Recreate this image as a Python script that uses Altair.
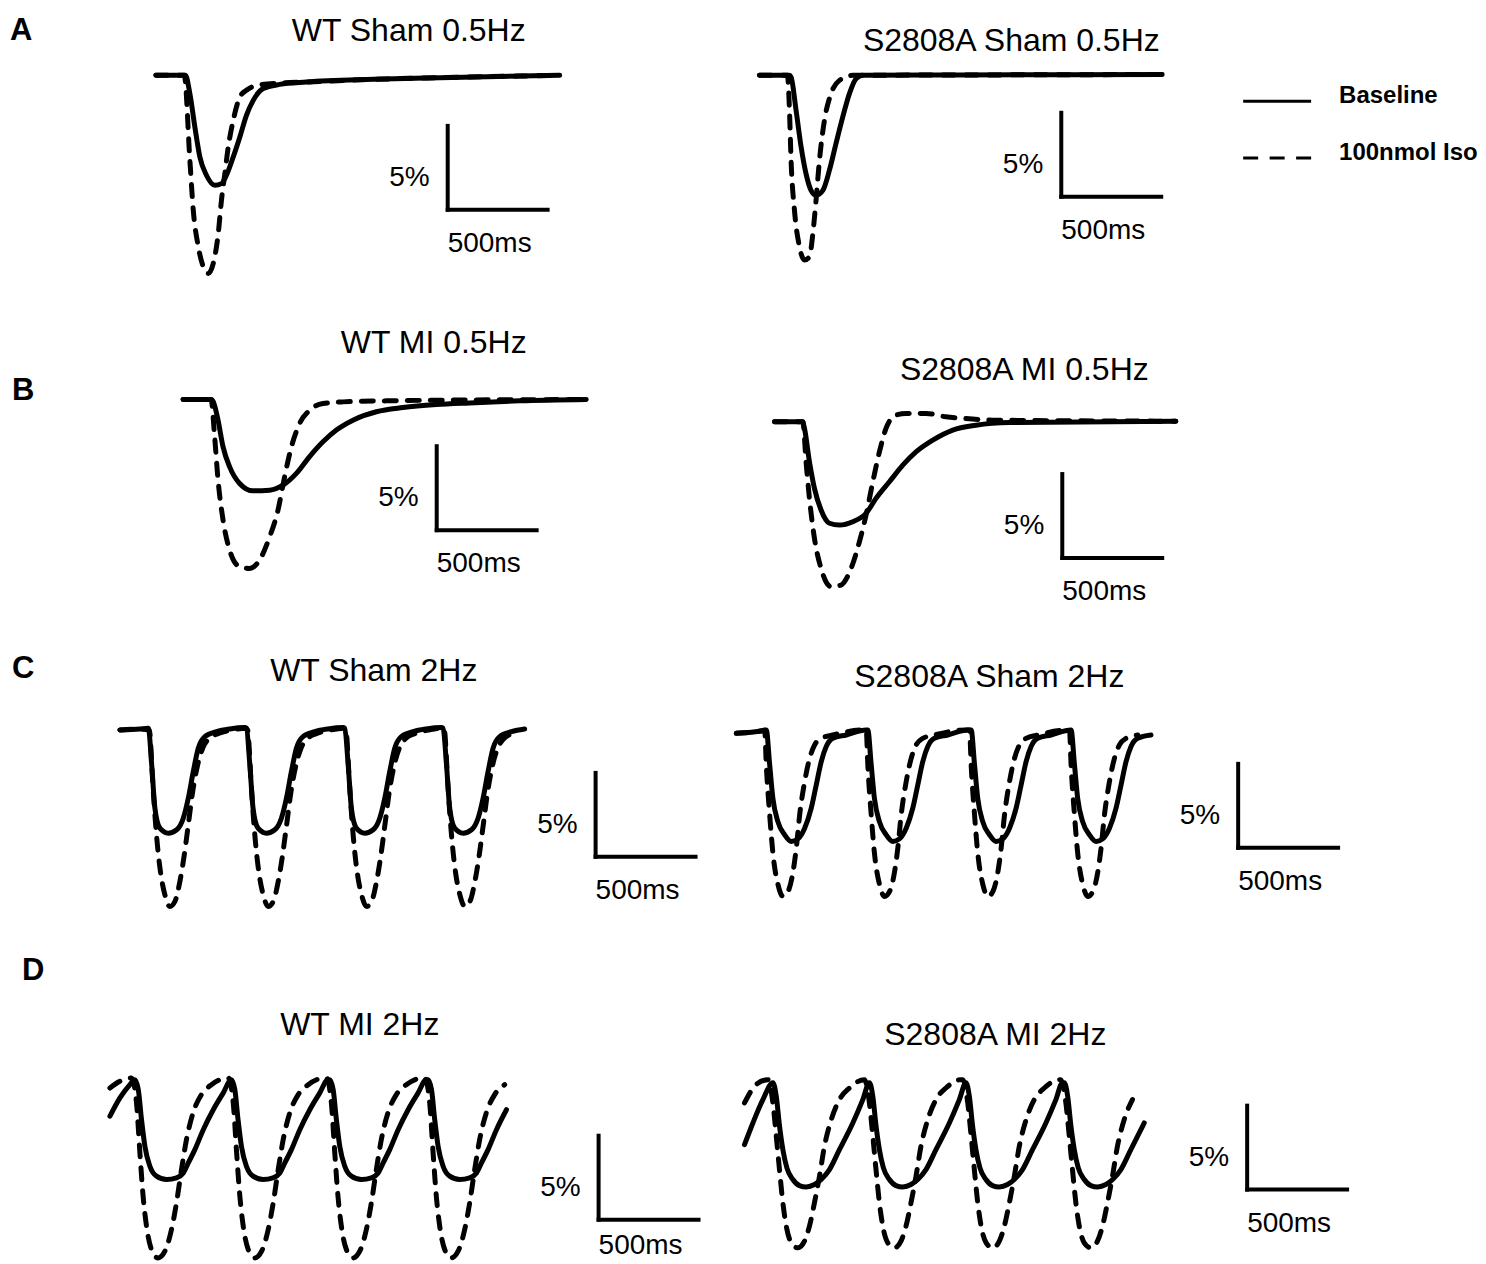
import altair as alt
import pandas as pd

# ---------------- canvas: one shared scale (ms across, % up) ----------------
MS_PER_PX = 5.0          # 100 px = 500 ms
PX_PER_PCT = 16.8        # 84 px = 5 %
W, H = 1470, 1248
X_DOMAIN = [0, W * MS_PER_PX]
Y_DOMAIN = [0, H / PX_PER_PCT]
FONT = "Liberation Sans"

# ---------------- panel origins (global ms, global %) ----------------
PANEL_ORIGIN = {
    "WT Sham 0.5Hz": (740, 70.30),
    "S2808A Sham 0.5Hz": (3760, 70.30),
    "WT MI 0.5Hz": (876, 50.99),
    "S2808A MI 0.5Hz": (3835, 49.66),
    "WT Sham 2Hz": (560, 31.31),
    "S2808A Sham 2Hz": (3644, 31.11),
    "WT MI 2Hz": (510, 10.48),
    "S2808A MI 2Hz": (3685, 10.30),
}
TITLE_POS = {
    "WT Sham 0.5Hz": (2005, 72.32),
    "S2808A Sham 0.5Hz": (5020, 71.73),
    "WT MI 0.5Hz": (2130, 53.75),
    "S2808A MI 0.5Hz": (5085, 52.14),
    "WT Sham 2Hz": (1830, 34.23),
    "S2808A Sham 2Hz": (4910, 33.87),
    "WT MI 2Hz": (1760, 13.15),
    "S2808A MI 2Hz": (4940, 12.56),
}
SCALEBAR_CORNER = {
    "WT Sham 0.5Hz": (2200, 62.29),
    "S2808A Sham 0.5Hz": (5270, 63.07),
    "WT MI 0.5Hz": (2145, 43.21),
    "S2808A MI 0.5Hz": (5275, 41.55),
    "WT Sham 2Hz": (2940, 23.75),
    "S2808A Sham 2Hz": (6155, 24.29),
    "WT MI 2Hz": (2955, 2.14),
    "S2808A MI 2Hz": (6200, 3.93),
}
BAR_MS, BAR_PCT = 500, 5
LETTERS = ["A", "B", "C", "D"]
LETTER_POS = [(10, 72.38), (20, 50.95), (20, 34.40), (70, 16.43)]
SERIES = ["Baseline", "100nmol Iso"]

# ---------------- 0.5 Hz traces (t in ms, v in %) ----------------
A_L_SOLID_T = [0, 148, 170, 195, 220, 253, 295, 328, 353, 387, 420, 453, 487, 537, 620, 753, 1087, 1420, 2020]
A_L_SOLID_V = [0, 0, -1.09, -3.08, -4.86, -5.95, -6.55, -6.45, -5.95, -4.86, -3.67, -2.38, -1.49, -0.79, -0.54, -0.40, -0.24, -0.14, 0]
A_L_DASH_T = [0, 142, 170, 187, 212, 237, 262, 287, 312, 328, 345, 362, 387, 420, 453, 503, 620, 753, 1087, 1420, 2020]
A_L_DASH_V = [0, 0, -5.06, -8.04, -10.2, -11.4, -11.8, -11.2, -9.42, -7.44, -5.85, -4.27, -2.68, -1.29, -0.89, -0.60, -0.46, -0.40, -0.24, -0.14, 0]

A_R_SOLID_T = [0, 150, 158, 183, 208, 233, 258, 283, 317, 350, 383, 417, 450, 483, 517, 1000, 2015]
A_R_SOLID_V = [0, 0, -0.1, -2.08, -4.25, -5.87, -6.85, -7.14, -6.85, -5.65, -4.05, -2.46, -1.09, -0.2, 0, 0.02, 0.05]
A_R_DASH_T = [0, 140, 150, 158, 175, 200, 225, 250, 267, 283, 300, 325, 358, 400, 467, 1000, 2015]
A_R_DASH_V = [0, 0, -2.08, -5.06, -8.04, -10.2, -11.0, -10.8, -9.42, -7.44, -5.06, -2.68, -1.09, -0.3, 0, 0.02, 0.05]

B_L_SOLID_T = [0, 142, 150, 175, 200, 233, 283, 350, 433, 500, 567, 633, 700, 767, 850, 967, 1100, 1267, 1433, 1683, 2017]
B_L_SOLID_V = [0, 0, -0.1, -1.23, -2.82, -4.01, -5.0, -5.44, -5.4, -5.1, -4.4, -3.4, -2.52, -1.82, -1.23, -0.73, -0.48, -0.3, -0.2, -0.08, 0]
B_L_DASH_T = [0, 140, 158, 175, 200, 233, 283, 333, 383, 433, 475, 508, 542, 583, 633, 700, 800, 1017, 1267, 2017]
B_L_DASH_V = [0, 0, -2.23, -4.8, -7.18, -8.97, -9.96, -10.06, -9.56, -8.18, -6.58, -4.6, -2.82, -1.43, -0.64, -0.24, -0.14, -0.08, -0.04, 0]

B_R_SOLID_T = [0, 140, 150, 175, 200, 233, 275, 325, 392, 458, 508, 575, 642, 708, 792, 892, 1008, 1175, 2008]
B_R_SOLID_V = [0, 0, -0.39, -2.38, -3.96, -5.25, -6.04, -6.15, -5.95, -5.45, -4.56, -3.57, -2.58, -1.79, -1.09, -0.49, -0.2, -0.04, 0.04]
B_R_DASH_T = [0, 142, 158, 175, 200, 233, 283, 333, 383, 425, 458, 492, 525, 558, 608, 658, 758, 858, 958, 1092, 2008]
B_R_DASH_V = [0, 0, -2.38, -4.56, -6.94, -8.73, -9.82, -9.72, -8.73, -7.14, -5.56, -3.57, -1.79, -0.39, 0.4, 0.5, 0.5, 0.3, 0.2, 0.1, 0.04]

# ---------------- 2 Hz traces: lead-in, one read beat, beat onsets ----------------
C_L_HEAD_T = [0, 100]
C_L_HEAD_V = [0, 0.05]
C_L_SOLID_BEAT_T = [0, 17, 33, 58, 100, 142, 175, 200, 225, 250, 283, 342, 408, 483]
C_L_SOLID_BEAT_V = [0.1, -2.08, -4.66, -5.85, -6.15, -5.95, -5.26, -4.07, -2.48, -1.09, -0.40, -0.10, 0.06, 0.14]
C_L_SOLID_ONSETS = [142, 633, 1125, 1617]
C_L_DASH_BEAT_T = [0, 17, 28, 42, 58, 78, 103, 128, 153, 175, 195, 217, 242, 267, 300, 350, 417, 483]
C_L_DASH_BEAT_V = [0, -3.08, -5.06, -7.04, -8.63, -9.82, -10.52, -10.22, -9.03, -7.44, -5.65, -3.67, -2.08, -1.09, -0.5, -0.2, 0, 0.1]
C_L_DASH_ONSETS = [147, 639, 1131, 1623]
C_L_END = 2025

C_R_HEAD_T = [0, 130]
C_R_HEAD_V = [0, 0.15]
C_R_SOLID_BEAT_T = [0, 17, 33, 58, 92, 125, 158, 192, 225, 250, 275, 300, 333, 400, 500]
C_R_SOLID_BEAT_V = [0.2, -1.88, -3.87, -5.26, -6.05, -6.45, -6.29, -5.65, -4.46, -3.08, -1.69, -0.79, -0.3, -0.1, 0.2]
C_R_SOLID_ONSETS = [150, 658, 1175, 1675]
C_R_DASH_BEAT_T = [0, 8, 25, 42, 67, 92, 117, 142, 158, 175, 200, 225, 250, 283, 342, 500]
C_R_DASH_BEAT_V = [0.2, -1.88, -4.86, -7.24, -9.03, -9.72, -9.42, -8.24, -6.85, -4.86, -2.88, -1.49, -0.69, -0.3, -0.1, 0.2]
C_R_DASH_ONSETS = [142, 650, 1167, 1667]
C_R_END = 2083

D_L_SOLID_HEAD_T = [0, 50, 100]
D_L_SOLID_HEAD_V = [-2.18, -1.09, -0.3]
D_L_SOLID_BEAT_T = [0, 17, 33, 50, 75, 108, 158, 208, 242, 267, 300, 342, 392, 442, 483]
D_L_SOLID_BEAT_V = [0, -0.6, -2.38, -3.97, -5.16, -5.75, -5.95, -5.85, -5.56, -4.96, -4.17, -2.98, -1.79, -0.79, 0]
D_L_SOLID_PEAKS = [125, 608, 1100, 1592]
D_L_SOLID_END = 2008
D_L_DASH_HEAD_T = [0, 50]
D_L_DASH_HEAD_V = [-0.5, -0.1]
D_L_DASH_BEAT_T = [0, 25, 42, 58, 75, 100, 133, 167, 200, 225, 250, 275, 308, 350, 400, 483]
D_L_DASH_BEAT_V = [0.1, -1.39, -4.37, -6.94, -8.73, -10.12, -10.62, -10.22, -8.93, -7.34, -5.36, -3.57, -1.98, -0.89, -0.3, 0.1]
D_L_DASH_PEAKS = [108, 592, 1083, 1575]
D_L_DASH_END = 2000

D_R_SOLID_HEAD_T = [0, 42, 92]
D_R_SOLID_HEAD_V = [-3.69, -2.4, -1.01]
D_R_SOLID_BEAT_T = [0, 17, 33, 50, 70, 100, 133, 167, 208, 242, 283, 333, 400, 450, 483]
D_R_SOLID_BEAT_V = [0, -0.81, -2.56, -3.99, -5.08, -5.77, -6.13, -6.21, -6.07, -5.77, -5.18, -3.99, -2.4, -1.01, 0]
D_R_SOLID_PEAKS = [142, 625, 1108, 1600]
D_R_SOLID_END = 2000
D_R_DASH_HEAD_T = [0, 58]
D_R_DASH_HEAD_V = [-1.21, -0.12]
D_R_DASH_BEAT_T = [0, 25, 42, 58, 75, 92, 117, 150, 183, 208, 233, 258, 283, 317, 358, 408, 483]
D_R_DASH_BEAT_V = [0.18, -1.21, -3.19, -5.18, -7.16, -8.55, -9.54, -9.84, -9.44, -8.55, -7.16, -5.58, -3.79, -2.2, -1.01, -0.32, 0.18]
D_R_DASH_PEAKS = [117, 600, 1092, 1583]
D_R_DASH_END = 1975


def beats(head_t, head_v, beat_t, beat_v, starts, t_end):
    pts = list(zip(head_t, head_v))
    for i, s in enumerate(starts):
        limit = starts[i + 1] if i + 1 < len(starts) else t_end + 1e-6
        for a, b in zip(beat_t, beat_v):
            if s + a < limit:
                pts.append((s + a, b))
    return pts


TRACES = [
    ("WT Sham 0.5Hz", "Baseline", list(zip(A_L_SOLID_T, A_L_SOLID_V))),
    ("WT Sham 0.5Hz", "100nmol Iso", list(zip(A_L_DASH_T, A_L_DASH_V))),
    ("S2808A Sham 0.5Hz", "Baseline", list(zip(A_R_SOLID_T, A_R_SOLID_V))),
    ("S2808A Sham 0.5Hz", "100nmol Iso", list(zip(A_R_DASH_T, A_R_DASH_V))),
    ("WT MI 0.5Hz", "Baseline", list(zip(B_L_SOLID_T, B_L_SOLID_V))),
    ("WT MI 0.5Hz", "100nmol Iso", list(zip(B_L_DASH_T, B_L_DASH_V))),
    ("S2808A MI 0.5Hz", "Baseline", list(zip(B_R_SOLID_T, B_R_SOLID_V))),
    ("S2808A MI 0.5Hz", "100nmol Iso", list(zip(B_R_DASH_T, B_R_DASH_V))),
    ("WT Sham 2Hz", "Baseline", beats(C_L_HEAD_T, C_L_HEAD_V, C_L_SOLID_BEAT_T, C_L_SOLID_BEAT_V, C_L_SOLID_ONSETS, C_L_END)),
    ("WT Sham 2Hz", "100nmol Iso", beats(C_L_HEAD_T, C_L_HEAD_V, C_L_DASH_BEAT_T, C_L_DASH_BEAT_V, C_L_DASH_ONSETS, C_L_END)),
    ("S2808A Sham 2Hz", "Baseline", beats(C_R_HEAD_T, C_R_HEAD_V, C_R_SOLID_BEAT_T, C_R_SOLID_BEAT_V, C_R_SOLID_ONSETS, C_R_END)),
    ("S2808A Sham 2Hz", "100nmol Iso", beats(C_R_HEAD_T, C_R_HEAD_V, C_R_DASH_BEAT_T, C_R_DASH_BEAT_V, C_R_DASH_ONSETS, C_R_END)),
    ("WT MI 2Hz", "Baseline", beats(D_L_SOLID_HEAD_T, D_L_SOLID_HEAD_V, D_L_SOLID_BEAT_T, D_L_SOLID_BEAT_V, D_L_SOLID_PEAKS, D_L_SOLID_END)),
    ("WT MI 2Hz", "100nmol Iso", beats(D_L_DASH_HEAD_T, D_L_DASH_HEAD_V, D_L_DASH_BEAT_T, D_L_DASH_BEAT_V, D_L_DASH_PEAKS, D_L_DASH_END)),
    ("S2808A MI 2Hz", "Baseline", beats(D_R_SOLID_HEAD_T, D_R_SOLID_HEAD_V, D_R_SOLID_BEAT_T, D_R_SOLID_BEAT_V, D_R_SOLID_PEAKS, D_R_SOLID_END)),
    ("S2808A MI 2Hz", "100nmol Iso", beats(D_R_DASH_HEAD_T, D_R_DASH_HEAD_V, D_R_DASH_BEAT_T, D_R_DASH_BEAT_V, D_R_DASH_PEAKS, D_R_DASH_END)),
]

rows = []
for panel, series, pts in TRACES:
    x0, y0 = PANEL_ORIGIN[panel]
    for t, v in pts:
        rows.append({"panel": panel, "series": series, "t": t, "v": v, "x0": x0, "y0": y0})
trace_df = pd.DataFrame(rows)

LABEL_FLOOR = 0.08   # keep the lowest "500ms" label inside the canvas
bar_rows, lab5, lab500 = [], [], []
for panel, (cx, cy) in SCALEBAR_CORNER.items():
    bar_rows.append({"x": cx, "y": cy, "x2": cx, "y2": cy + BAR_PCT})
    bar_rows.append({"x": cx, "y": cy, "x2": cx + BAR_MS, "y2": cy})
    lab5.append({"x": cx - 90, "y": cy + 1.43, "label": "5%"})
    lab500.append({"x": cx + 210, "y": max(cy - 2.5, LABEL_FLOOR), "label": "500ms"})
bar_df = pd.DataFrame(bar_rows)
lab5_df = pd.DataFrame(lab5)
lab500_df = pd.DataFrame(lab500)
title_df = pd.DataFrame([{"x": x, "y": y, "label": k} for k, (x, y) in TITLE_POS.items()])
letter_df = pd.DataFrame([{"x": x, "y": y, "label": l} for l, (x, y) in zip(LETTERS, LETTER_POS)])

LEG_X0, LEG_X1, LEG_TX = 6180, 6520, 6660
leg_line_df = pd.DataFrame([
    {"series": SERIES[0], "x": LEG_X0, "x2": LEG_X1, "y": 68.75},
    {"series": SERIES[1], "x": LEG_X0, "x2": LEG_X1, "y": 65.38},
])
leg_text_df = pd.DataFrame([
    {"label": SERIES[0], "x": LEG_TX, "y": 68.63},
    {"label": SERIES[1], "x": LEG_TX, "y": 65.24},
])

xs = alt.Scale(domain=X_DOMAIN, nice=False, zero=False)
ys = alt.Scale(domain=Y_DOMAIN, nice=False, zero=False)
X = alt.X("x:Q", scale=xs, axis=None)
Y = alt.Y("y:Q", scale=ys, axis=None)

LW = 5
traces = alt.Chart(trace_df).transform_calculate(x="datum.x0 + datum.t", y="datum.y0 + datum.v")
solid = traces.transform_filter(alt.datum.series == "Baseline").mark_line(
    color="black", strokeWidth=LW, interpolate="monotone", strokeCap="round", strokeJoin="round"
).encode(x=X, y=Y, detail="panel:N")
dashed = traces.transform_filter(alt.datum.series == "100nmol Iso").mark_line(
    color="black", strokeWidth=LW, interpolate="monotone", strokeCap="round", strokeJoin="round",
    strokeDash=[12, 11]
).encode(x=X, y=Y, detail="panel:N")

bars = alt.Chart(bar_df).mark_rule(color="black", strokeWidth=4, strokeCap="square").encode(
    x=X, y=Y, x2="x2:Q", y2="y2:Q")

t5 = alt.Chart(lab5_df).mark_text(font=FONT, fontSize=28, align="right", baseline="alphabetic", color="black").encode(
    x=X, y=Y, text="label:N")
t500 = alt.Chart(lab500_df).mark_text(font=FONT, fontSize=28, align="center", baseline="alphabetic", color="black").encode(
    x=X, y=Y, text="label:N")
titles = alt.Chart(title_df).mark_text(font=FONT, fontSize=32, align="center", baseline="alphabetic", color="black").encode(
    x=X, y=Y, text="label:N")
letters = alt.Chart(letter_df).mark_text(font=FONT, fontSize=31, fontWeight="bold", align="left", baseline="alphabetic", color="black").encode(
    x=X, y=Y, text="label:N")

leg_solid = alt.Chart(leg_line_df).transform_filter(alt.datum.series == "Baseline").mark_rule(
    color="black", strokeWidth=3).encode(x=X, x2="x2:Q", y=Y)
leg_dash = alt.Chart(leg_line_df).transform_filter(alt.datum.series == "100nmol Iso").mark_rule(
    color="black", strokeWidth=3, strokeDash=[15, 11.5]).encode(x=X, x2="x2:Q", y=Y)
leg_text = alt.Chart(leg_text_df).mark_text(font=FONT, fontSize=24, fontWeight="bold", align="left", baseline="alphabetic", color="black").encode(
    x=X, y=Y, text="label:N")

chart = alt.layer(solid, dashed, bars, t5, t500, titles, letters, leg_solid, leg_dash, leg_text).properties(
    width=W, height=H, padding=0, background="white"
).configure_view(stroke=None)

chart.save("out.html", embed_options={"renderer": "svg", "actions": False})
